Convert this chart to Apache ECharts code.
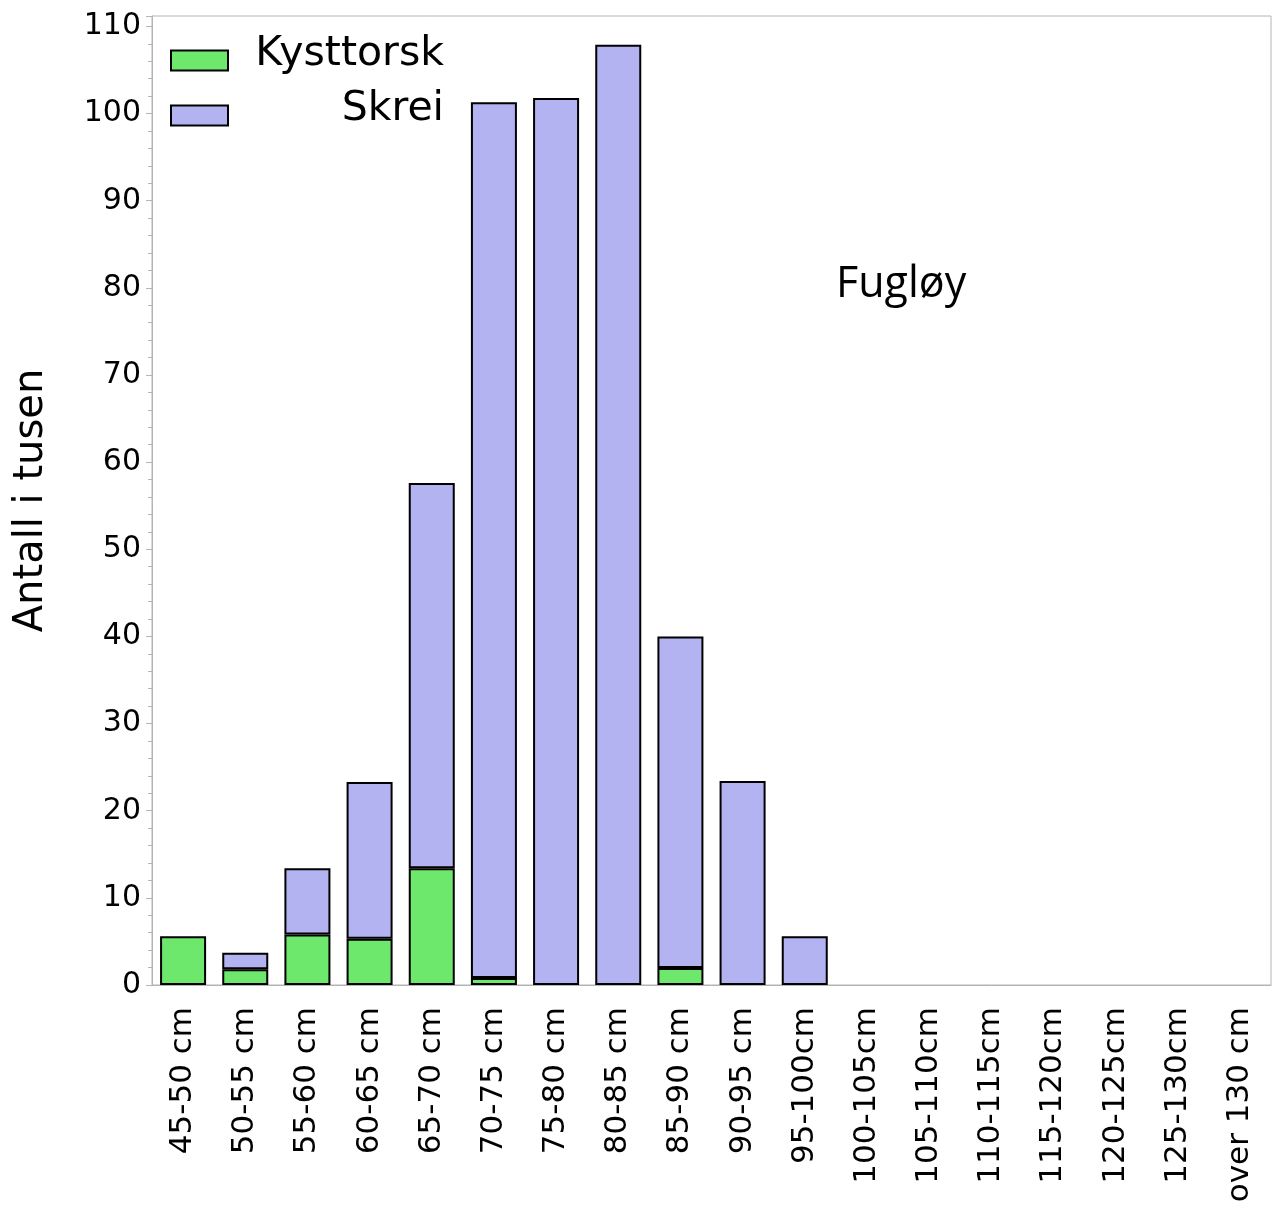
<!DOCTYPE html>
<html><head><meta charset="utf-8">
<script src="https://cdn.jsdelivr.net/npm/echarts@6/dist/echarts.min.js"></script>
<style>html,body{margin:0;padding:0;background:#fff}#c{width:1273px;height:1209px}</style>
</head><body><div id="c"></div>
<script>
const categories = ['45-50 cm','50-55 cm','55-60 cm','60-65 cm','65-70 cm','70-75 cm','75-80 cm','80-85 cm','85-90 cm','90-95 cm','95-100cm','100-105cm','105-110cm','110-115cm','115-120cm','120-125cm','125-130cm','over 130 cm'];
const kysttorsk = [5.6, 1.8, 5.8, 5.3, 13.4, 0.8, 0, 0, 1.95, 0, 0, 0, 0, 0, 0, 0, 0, 0];
const skrei     = [0, 1.9, 7.6, 18.0, 44.2, 100.5, 101.8, 107.9, 38.05, 23.4, 5.6, 0, 0, 0, 0, 0, 0, 0];
const yTicks = [0,10,20,30,40,50,60,70,80,90,100,110];

const noZero = arr => arr.map(v => v === 0 ? '-' : v);
const chart = echarts.init(document.getElementById('c'), null, {renderer:'canvas'});
const font = 'DejaVu Sans, sans-serif';
chart.setOption({
  animation:false,
  grid:{left:152, right:2, top:16, bottom:224, show:true, borderColor:'#b4b4b4', borderWidth:1},
  legend:{
    orient:'vertical', left:165, top:29, itemWidth:57, itemHeight:20, itemGap:2,
    icon:'rect',
    itemStyle:{borderColor:'#000', borderWidth:2},
    data:['Kysttorsk','Skrei'],
    formatter: n => '{a|' + n + '}',
    textStyle:{fontFamily:font, fontSize:41, color:'#000',
      rich:{a:{fontFamily:font, fontSize:41, width:211, align:'right', lineHeight:38, padding:[0,0,12,0]}}}
  },
  xAxis:{
    type:'category', data:categories,
    axisLine:{lineStyle:{color:'#b4b4b4', width:1}},
    axisTick:{show:false},
    axisLabel:{rotate:90, interval:0, margin:22, fontFamily:font, fontSize:31, color:'#000'}
  },
  yAxis:{
    type:'value', min:0, max:111.2, interval:10,
    name:'Antall i tusen', nameLocation:'middle', nameGap:100,
    nameTextStyle:{fontFamily:font, fontSize:40, color:'#000'},
    splitLine:{show:false},
    axisLine:{show:true, lineStyle:{color:'#b4b4b4'}},
    axisTick:{show:true, length:6, lineStyle:{color:'#b4b4b4'}},
    minorTick:{show:true, splitNumber:5, length:4, lineStyle:{color:'#b4b4b4'}},
    axisLabel:{showMaxLabel:false, margin:11, fontFamily:font, fontSize:30, color:'#000',
      formatter: v => yTicks.includes(v) ? String(v) : ''}
  },
  series:[
    {name:'Kysttorsk', type:'bar', stack:'s', data:noZero(kysttorsk), barWidth:'74%',
     itemStyle:{color:'#6de86d', borderColor:'#000', borderWidth:2}},
    {name:'Skrei', type:'bar', stack:'s', data:noZero(skrei), barWidth:'74%',
     itemStyle:{color:'#b3b3f2', borderColor:'#000', borderWidth:2}}
  ],
  graphic:[{type:'text', left:836, top:263, style:{text:'Fugløy', fontFamily:'Open Sans, sans-serif', fontSize:43, fill:'#000'}}]
});
</script></body></html>
